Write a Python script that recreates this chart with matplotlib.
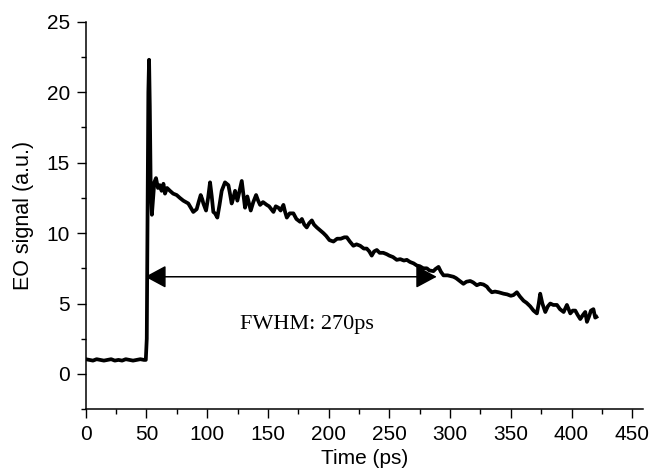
import matplotlib
matplotlib.use('Agg')
import matplotlib.pyplot as plt

# EO signal trace
time_ps = [0, 3, 6, 9, 12, 15, 18, 21, 24, 27, 30, 33, 36, 39, 42, 45, 48, 49.5,
           50.3, 51.0, 51.6, 52.2, 52.8, 53.5, 54.5, 55.5, 56.5, 57.9, 59.5, 61, 62.5, 64,
           65.3, 67, 69.4, 72, 74.9, 77.5, 80.4, 82.5, 84.5, 86.5, 88.6, 91.4, 93, 94.7,
           96, 96.9, 99.1, 100.8, 102.4, 103.8, 105.1, 106.5, 108.4, 110.2, 112, 114.7,
           117.5, 118.8, 120.2, 121.6, 123, 124.9, 126.7, 128.5, 129.8, 131.2, 133.1,
           134.5, 135.9, 138, 140.3, 142, 143.6, 146, 149.1, 151, 152.8, 154.6, 156.5,
           158.7, 160.5, 162.8, 164.2, 165.6, 168, 171, 173.5, 176.5, 178, 180, 182, 184,
           186.2, 188, 190.3, 193, 195.7, 198, 200.7, 204, 207, 210, 213, 215, 217.5,
           220.4, 223, 226, 229, 231.4, 233.5, 235.5, 237.5, 239.7, 242, 245, 247.9, 250,
           253, 256.1, 259, 262, 264.4, 267, 270, 272.6, 275, 278, 280.9, 283, 286.3, 288,
           290.5, 292.5, 294.6, 298, 302.8, 305, 308, 311, 313.5, 316.6, 319, 322, 324.8,
           327.5, 330.3, 332, 334.4, 337, 340, 344, 347, 350, 352.2, 355, 357.5, 360.5,
           363, 366, 368.7, 371.5, 373, 374.2, 376, 378.4, 380.5, 382.5, 385, 388, 390.5,
           393.5, 396.2, 399, 401, 403.1, 405, 407.2, 409.5, 411.3, 412.7, 414.5, 416,
           418, 419.5, 420.5]
eo_signal = [1.05, 1.0, 0.95, 1.05, 1.0, 0.95, 1.0, 1.05, 0.95, 1.0, 0.95, 1.05, 1.0, 0.95, 1.0, 1.05, 1.0, 1.0,
             2.5, 12, 20, 22.3, 19, 13.5, 11.3, 12.5, 13.6, 13.9, 13.2, 13.4, 13.0, 13.5,
             12.8, 13.2, 13.0, 12.8, 12.7, 12.5, 12.3, 12.2, 12.1, 11.8, 11.5, 11.7, 12.2, 12.7,
             12.4, 12.1, 11.6, 12.5, 13.6, 12.6, 11.5, 11.4, 11.1, 12.0, 13.0, 13.6,
             13.4, 12.8, 12.1, 12.5, 13.0, 12.3, 13.0, 13.7, 12.8, 11.8, 12.6,
             12.1, 11.6, 12.2, 12.7, 12.3, 12.0, 12.2, 12.0, 11.9, 11.7, 11.5, 11.9,
             11.8, 11.6, 12.0, 11.5, 11.1, 11.4, 11.4, 11.0, 10.8, 11.0, 10.6, 10.4, 10.7,
             10.9, 10.6, 10.4, 10.2, 10.0, 9.8, 9.5, 9.4, 9.6, 9.6, 9.7, 9.7, 9.4,
             9.1, 9.2, 9.1, 8.9, 8.9, 8.7, 8.4, 8.7, 8.8, 8.6, 8.6, 8.5, 8.4,
             8.3, 8.1, 8.15, 8.05, 8.1, 7.95, 7.85, 7.7, 7.65, 7.5, 7.5, 7.35, 7.3, 7.45,
             7.6, 7.25, 7.0, 7.0, 6.9, 6.8, 6.6, 6.4, 6.55, 6.6, 6.5, 6.3, 6.4,
             6.35, 6.2, 6.0, 5.8, 5.85, 5.8, 5.7, 5.65, 5.55, 5.6, 5.8, 5.5, 5.2,
             5.05, 4.8, 4.5, 4.3, 5.0, 5.7, 5.0, 4.4, 4.8, 5.0, 4.9, 4.9, 4.6,
             4.4, 4.9, 4.3, 4.5, 4.5, 4.2, 3.9, 4.2, 4.4, 3.7, 4.1, 4.5,
             4.6, 4.0, 4.05]

fwhm_start = 49
fwhm_end = 289
fwhm_level = 6.9
fwhm_label = 'FWHM: 270ps'

plt.rcParams['font.family'] = 'Liberation Sans'

fig = plt.figure(figsize=(6.51, 4.72), dpi=100)
ax = fig.add_axes([0.1316, 0.133, 0.8564, 0.821])

ax.plot(time_ps, eo_signal, color='black', lw=2.7, solid_joinstyle='round')

ax.annotate('', xy=(fwhm_start, fwhm_level), xytext=(fwhm_end, fwhm_level),
            arrowprops=dict(arrowstyle='<|-|>,head_length=1.3,head_width=0.7',
                            color='black', lw=1.1, shrinkA=0, shrinkB=0))
ax.text(182, 3.5, fwhm_label, family='Liberation Serif', fontsize=16,
        ha='center', va='center')

ax.set_xlim(0, 459)
ax.set_ylim(-2.5, 25)
ax.set_xticks(range(0, 451, 50))
ax.set_xticks(range(25, 451, 50), minor=True)
ax.set_yticks(range(0, 26, 5))
ax.set_yticks([-2.5, 2.5, 7.5, 12.5, 17.5, 22.5], minor=True)

for side in ['top', 'right']:
    ax.spines[side].set_visible(False)
for side in ['left', 'bottom']:
    ax.spines[side].set_linewidth(1.1)

ax.tick_params(which='major', direction='out', length=6.3, width=1.0,
               labelsize=15, pad=5)
ax.tick_params(which='minor', direction='out', length=3.6, width=1.0)

ax.set_xlabel('Time (ps)', fontsize=15, labelpad=4)
ax.set_ylabel('EO signal (a.u.)', fontsize=15.5, labelpad=9)

fig.savefig('out.png', dpi=100)
